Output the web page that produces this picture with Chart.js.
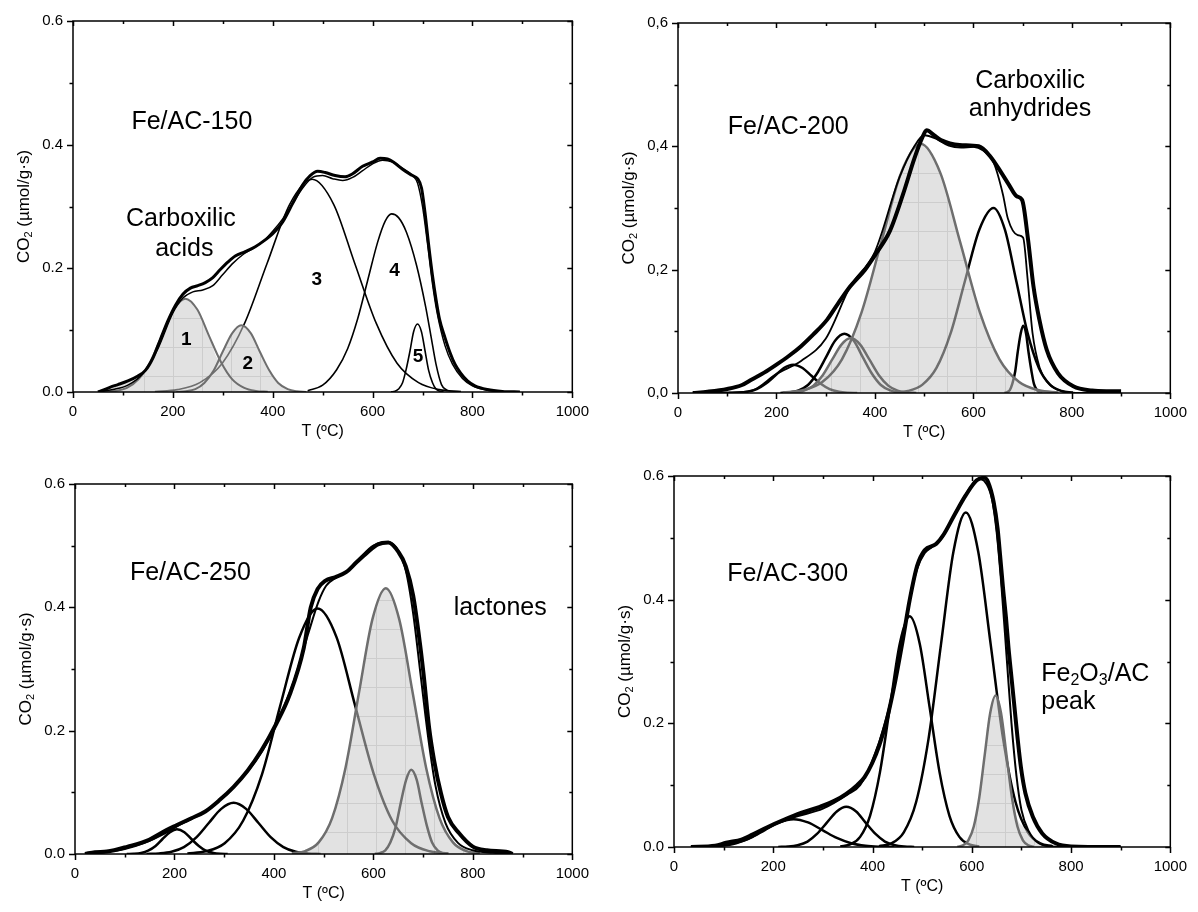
<!DOCTYPE html>
<html>
<head>
<meta charset="utf-8">
<script src="https://cdn.jsdelivr.net/npm/chart.js@4.4.1/dist/chart.umd.min.js"></script>
<style>
  html, body { margin: 0; padding: 0; background: #fff; }
  #wrap { position: relative; width: 1198px; height: 912px; overflow: hidden; }
  canvas { position: absolute; }
</style>
</head>
<body>
<div id="wrap">
  <canvas id="c150" width="600" height="456" style="left:0px;top:0px"></canvas>
  <canvas id="c200" width="598" height="456" style="left:600px;top:0px"></canvas>
  <canvas id="c250" width="600" height="456" style="left:0px;top:456px"></canvas>
  <canvas id="c300" width="598" height="456" style="left:600px;top:456px"></canvas>
</div>
<script>
// values: [T (ºC), CO2 (umol/g.s)]

// ---- Fe/AC-150
var exp150 = [[50,0],[60,0.003],[75,0.008],[90,0.012],[110,0.018],[130,0.026],[145,0.035],[160,0.055],[175,0.085],[190,0.115],[205,0.14],[220,0.158],[235,0.168],[250,0.172],[265,0.177],[280,0.185],[295,0.198],[310,0.21],[325,0.22],[345,0.227],[365,0.235],[385,0.246],[400,0.256],[420,0.275],[440,0.305],[460,0.335],[475,0.35],[490,0.357],[505,0.355],[525,0.35],[545,0.348],[560,0.353],[580,0.365],[600,0.372],[615,0.378],[630,0.377],[645,0.37],[660,0.36],[680,0.35],[690,0.345],[698,0.33],[705,0.29],[712,0.24],[720,0.188],[727,0.15],[734,0.118],[745,0.088],[755,0.064],[765,0.045],[776,0.031],[790,0.018],[805,0.01],[830,0.004],[860,0.001],[895,0]]
var fit150 = [[50,0],[80,0.004],[110,0.011],[140,0.03],[170,0.07],[200,0.128],[220,0.152],[240,0.162],[260,0.165],[280,0.172],[300,0.19],[320,0.208],[340,0.222],[360,0.232],[380,0.243],[400,0.26],[420,0.28],[440,0.305],[460,0.33],[480,0.347],[500,0.35],[520,0.345],[540,0.342],[560,0.347],[580,0.358],[600,0.369],[620,0.375],[640,0.372],[660,0.362],[680,0.35],[690,0.338],[700,0.3],[710,0.24],[720,0.175],[730,0.125],[745,0.075],[760,0.045],[780,0.022],[800,0.01],[830,0.003],[870,0],[895,0]]
var pk150a = [[61,0.0003],[84,0.0017],[108,0.0066],[131,0.0204],[155,0.049],[178,0.0916],[202,0.1333],[225,0.151],[249,0.1333],[272,0.0916],[296,0.049],[319,0.0204],[343,0.0066],[366,0.0017],[390,0.0003]]
var pk150b = [[207,0.0002],[226,0.0012],[245,0.0047],[263,0.0146],[282,0.0351],[300,0.0655],[319,0.0953],[337,0.108],[356,0.0953],[374,0.0655],[393,0.0351],[411,0.0146],[430,0.0047],[448,0.0012],[467,0.0002]]
var pk150c = [[164,0.0008],[209,0.0038],[254,0.0151],[299,0.0465],[344,0.1117],[389,0.2086],[434,0.3036],[479,0.344],[522,0.3036],[564,0.2086],[607,0.1117],[649,0.0465],[692,0.0151],[734,0.0038],[777,0.0008]]
var pk150d = [[470,0.002],[500,0.011],[528,0.036],[550,0.07],[570,0.118],[590,0.18],[610,0.242],[625,0.276],[638,0.288],[652,0.282],[668,0.258],[688,0.205],[706,0.139],[717,0.09],[727,0.045],[738,0.012],[750,0.002]]
var pk150e = [[637,0.0002],[645,0.0012],[652,0.0048],[660,0.0149],[667,0.0357],[675,0.0667],[682,0.0971],[690,0.11],[698,0.0971],[705,0.0667],[712,0.0357],[720,0.0149],[727,0.0048],[735,0.0012],[742,0.0002]]
var shade150 = [[55,0],[75,0.007],[100,0.013],[130,0.025],[155,0.049],[178,0.0916],[202,0.1333],[225,0.151],[249,0.1333],[272,0.0916],[292,0.053],[300,0.0655],[319,0.0953],[337,0.108],[356,0.0953],[374,0.0655],[393,0.0351],[411,0.0146],[430,0.0047],[448,0.0012],[467,0]]

// ---- Fe/AC-200
var exp200 = [[30,0],[60,0.002],[100,0.0065],[130,0.013],[150,0.022],[175,0.033],[200,0.046],[225,0.06],[250,0.076],[275,0.095],[303,0.119],[325,0.145],[350,0.173],[380,0.2],[403,0.227],[430,0.262],[457,0.322],[480,0.38],[495,0.412],[505,0.426],[520,0.418],[534,0.41],[572,0.402],[611,0.4],[634,0.384],[657,0.357],[672,0.338],[688,0.319],[699,0.313],[711,0.249],[722,0.173],[734,0.119],[749,0.07],[772,0.032],[803,0.011],[841,0.004],[870,0.003],[900,0.003]]
var fit200 = [[30,0],[100,0.001],[150,0.004],[200,0.031],[250,0.052],[300,0.088],[350,0.173],[400,0.229],[450,0.35],[480,0.4],[500,0.418],[525,0.412],[550,0.401],[575,0.398],[600,0.399],[620,0.393],[641,0.374],[660,0.322],[670,0.283],[690,0.256],[701,0.252],[710,0.186],[720,0.098],[735,0.04],[750,0.018],[780,0.003],[820,0],[900,0]]
var pk200a = [[104,0.0001],[123,0.0005],[141,0.002],[160,0.0062],[178,0.0149],[197,0.0279],[215,0.0406],[234,0.046],[253,0.0406],[271,0.0279],[290,0.0149],[308,0.0062],[327,0.002],[345,0.0005],[364,0.0001]]
var pk200b = [[208,0.0002],[227,0.0011],[245,0.0042],[264,0.013],[282,0.0312],[301,0.0586],[319,0.0847],[338,0.096],[357,0.0847],[375,0.0586],[394,0.0312],[412,0.013],[431,0.0042],[449,0.0011],[468,0.0002]]
var pk200b2 = [[218,0.0002],[237,0.001],[256,0.0039],[275,0.012],[294,0.0289],[313,0.054],[332,0.0785],[351,0.089],[370,0.0785],[389,0.054],[408,0.0289],[427,0.012],[446,0.0039],[465,0.001],[484,0.0002]]
var pk200c = [[213,0.0009],[253,0.0045],[293,0.0177],[333,0.0547],[373,0.1312],[413,0.245],[453,0.3565],[493,0.404],[533,0.3565],[573,0.245],[613,0.1312],[653,0.0547],[693,0.0177],[733,0.0045],[773,0.0009]]
var pk200d = [[438,0.0007],[467,0.0033],[496,0.0132],[525,0.0406],[554,0.0974],[583,0.182],[612,0.2648],[641,0.3],[664,0.2648],[687,0.182],[710,0.0974],[733,0.0406],[756,0.0132],[779,0.0033],[802,0.0007]]
var pk200e = [[663,0.0002],[668,0.0012],[674,0.0048],[679,0.0147],[685,0.0354],[690,0.0661],[696,0.0962],[701,0.109],[707,0.0962],[712,0.0661],[718,0.0354],[723,0.0147],[729,0.0048],[734,0.0012],[740,0.0002]]
var shade200 = [[237,0.001],[256,0.0039],[275,0.012],[294,0.0289],[313,0.054],[332,0.0785],[351,0.089],[373,0.1312],[413,0.245],[453,0.3565],[493,0.404],[533,0.3565],[573,0.245],[613,0.1312],[653,0.0547],[693,0.0177],[733,0.0045],[773,0.0009]]

// ---- Fe/AC-250
var exp250 = [[20,0],[40,0.003],[64,0.004],[106,0.012],[149,0.023],[184,0.039],[205,0.047],[234,0.058],[262,0.069],[290,0.087],[319,0.109],[347,0.135],[375,0.168],[404,0.21],[432,0.259],[460,0.334],[474,0.4],[488,0.43],[503,0.443],[524,0.449],[545,0.457],[566,0.473],[588,0.489],[609,0.502],[630,0.505],[651,0.489],[665,0.467],[680,0.419],[694,0.339],[701,0.291],[712,0.205],[722,0.152],[736,0.098],[750,0.06],[772,0.034],[800,0.012],[828,0.006],[871,0.003],[880,0]]
var fit250 = [[20,0],[60,0.003],[100,0.008],[140,0.018],[180,0.033],[205,0.045],[230,0.055],[260,0.068],[290,0.087],[320,0.11],[350,0.137],[380,0.172],[410,0.22],[440,0.28],[470,0.36],[490,0.41],[505,0.435],[525,0.448],[550,0.46],[575,0.482],[600,0.5],[625,0.506],[645,0.498],[665,0.46],[680,0.39],[695,0.29],[710,0.19],[725,0.11],[745,0.05],[770,0.018],[800,0.006],[840,0.002],[880,0]]
var pk250a = [[104,0.0001],[118,0.0004],[133,0.0018],[147,0.0054],[162,0.013],[176,0.0243],[191,0.0353],[205,0.04],[220,0.0353],[234,0.0243],[249,0.013],[263,0.0054],[278,0.0018],[292,0.0004],[307,0.0001]]
var pk250b = [[144,0.0002],[169,0.0009],[194,0.0036],[219,0.0112],[244,0.027],[269,0.0503],[294,0.0732],[319,0.083],[344,0.0732],[369,0.0503],[394,0.027],[419,0.0112],[444,0.0036],[469,0.0009],[494,0.0002]]
var pk250c = [[226,0.0009],[263,0.0044],[301,0.0175],[338,0.0539],[376,0.1292],[413,0.2414],[451,0.3512],[488,0.398],[526,0.3512],[563,0.2414],[601,0.1292],[638,0.0539],[676,0.0175],[713,0.0044],[751,0.0009]]
var pk250d = [[436,0.001],[463,0.0048],[490,0.0189],[517,0.0583],[544,0.14],[571,0.2614],[598,0.3804],[625,0.431],[652,0.3804],[679,0.2614],[706,0.14],[733,0.0583],[760,0.0189],[787,0.0048],[814,0.001]]
var pk250e = [[603,0.0003],[613,0.0015],[624,0.006],[634,0.0185],[645,0.0443],[655,0.0828],[666,0.1205],[676,0.1365],[687,0.1205],[697,0.0828],[708,0.0443],[718,0.0185],[729,0.006],[739,0.0015],[750,0.0003]]
var shade250 = [[436,0.001],[463,0.0048],[490,0.0189],[517,0.0583],[544,0.14],[571,0.2614],[598,0.3804],[625,0.431],[652,0.3804],[679,0.2614],[706,0.14],[733,0.0583],[760,0.0189],[787,0.0048],[814,0.001]]

// ---- Fe/AC-300
var exp300 = [[34,0],[83,0.002],[105,0.007],[136,0.012],[158,0.02],[188,0.032],[219,0.043],[256,0.055],[294,0.065],[324,0.075],[347,0.086],[369,0.1],[384,0.113],[399,0.135],[414,0.165],[430,0.21],[445,0.265],[460,0.33],[475,0.4],[490,0.455],[505,0.48],[528,0.49],[543,0.505],[565,0.537],[588,0.569],[610,0.593],[625,0.597],[633,0.59],[644,0.558],[652,0.515],[657,0.472],[663,0.418],[669,0.37],[674,0.322],[680,0.274],[686,0.226],[692,0.178],[699,0.129],[708,0.087],[723,0.049],[742,0.022],[769,0.006],[800,0.001],[900,0]]
var fit300 = [[34,0],[80,0.001],[100,0.003],[150,0.013],[200,0.036],[250,0.05],[300,0.062],[350,0.085],[375,0.1],[400,0.14],[425,0.2],[450,0.285],[475,0.4],[490,0.45],[505,0.475],[520,0.485],[540,0.5],[560,0.53],[580,0.56],[600,0.585],[615,0.595],[625,0.592],[640,0.565],[650,0.51],[660,0.42],[670,0.31],[680,0.2],[690,0.115],[700,0.06],[715,0.025],[735,0.006],[760,0.001],[900,0]]
var pk300a = [[38,0.0001],[67,0.0005],[96,0.002],[125,0.0061],[154,0.0146],[183,0.0273],[212,0.0397],[241,0.045],[270,0.0397],[299,0.0273],[328,0.0146],[357,0.0061],[386,0.002],[415,0.0005],[444,0.0001]]
var pk300b = [[210,0.0001],[230,0.0007],[249,0.0029],[269,0.0088],[288,0.0211],[308,0.0394],[328,0.0574],[347,0.065],[367,0.0574],[386,0.0394],[406,0.0211],[425,0.0088],[445,0.0029],[464,0.0007],[484,0.0001]]
var pk300c = [[335,0.0008],[355,0.0041],[375,0.0164],[395,0.0505],[415,0.1211],[435,0.2262],[455,0.3292],[475,0.373],[495,0.3292],[515,0.2262],[535,0.1211],[555,0.0505],[575,0.0164],[595,0.0041],[615,0.0008]]
var pk300d = [[413,0.0012],[438,0.006],[463,0.0238],[488,0.0732],[513,0.1757],[538,0.3281],[563,0.4774],[588,0.541],[613,0.4774],[638,0.3281],[663,0.1757],[688,0.0732],[713,0.0238],[738,0.006],[763,0.0012]]
var pk300e = [[571,0.0005],[582,0.0027],[593,0.0108],[604,0.0331],[615,0.0796],[626,0.1486],[637,0.2162],[648,0.245],[659,0.2162],[670,0.1486],[681,0.0796],[692,0.0331],[703,0.0108],[714,0.0027],[725,0.0005]]
var shade300 = [[566,0],[571,0.0005],[582,0.0027],[593,0.0108],[604,0.0331],[615,0.0796],[626,0.1486],[637,0.2162],[648,0.245],[659,0.2162],[670,0.1486],[681,0.0796],[692,0.045],[703,0.033],[714,0.024],[725,0.015],[738,0.006],[750,0]]

// text placed at data coordinates: [runs, T, value, size, align, bold]
var notes = {
  c150: [
    [[['Fe/AC-150', 0]], 238, 0.436, 25, 'center', false],
    [[['Carboxilic', 0]], 216, 0.279, 25, 'center', false],
    [[['acids', 0]], 223, 0.231, 25, 'center', false],
    [[['1', 0]], 227, 0.084, 19, 'center', true],
    [[['2', 0]], 350, 0.045, 19, 'center', true],
    [[['3', 0]], 488, 0.182, 19, 'center', true],
    [[['4', 0]], 644, 0.196, 19, 'center', true],
    [[['5', 0]], 691, 0.057, 19, 'center', true]
  ],
  c200: [
    [[['Fe/AC-200', 0]], 224, 0.431, 25, 'center', false],
    [[['Carboxilic', 0]], 715, 0.505, 25, 'center', false],
    [[['anhydrides', 0]], 715, 0.461, 25, 'center', false]
  ],
  c250: [
    [[['Fe/AC-250', 0]], 232, 0.455, 25, 'center', false],
    [[['lactones', 0]], 855, 0.398, 25, 'center', false]
  ],
  c300: [
    [[['Fe/AC-300', 0]], 229, 0.441, 25, 'center', false],
    [[['Fe', 0], ['2', 1], ['O', 0], ['3', 1], ['/AC', 0]], 740, 0.28, 25, 'left', false],
    [[['peak', 0]], 740, 0.234, 25, 'left', false]
  ]
}

var FONT = '"Liberation Sans", Arial, Helvetica, sans-serif'
var GREY = '#6e6e6e'

function drawRuns (c, runs, x, y, size, align, bold) {
  var w = 0
  var i
  for (i = 0; i < runs.length; i++) {
    c.font = (bold ? 'bold ' : '') + (runs[i][1] ? Math.round(size * 0.62) : size) + 'px ' + FONT
    w += c.measureText(runs[i][0]).width
  }
  var cx = align === 'center' ? x - w / 2 : x
  c.textAlign = 'left'
  c.textBaseline = 'middle'
  for (i = 0; i < runs.length; i++) {
    var sub = runs[i][1]
    c.font = (bold ? 'bold ' : '') + (sub ? Math.round(size * 0.62) : size) + 'px ' + FONT
    c.fillText(runs[i][0], cx, y + (sub ? size * 0.28 : 0))
    cx += c.measureText(runs[i][0]).width
  }
}

var framePlugin = {
  id: 'frame',
  afterDraw: function (chart) {
    var c = chart.ctx
    var a = chart.chartArea
    var sx = chart.scales.x
    var sy = chart.scales.y
    c.save()
    c.strokeStyle = '#000'
    c.lineWidth = 1.5
    c.strokeRect(a.left, a.top, a.right - a.left, a.bottom - a.top)
    c.beginPath()
    for (var t = 0; t <= 1000; t += 100) {
      var x = Math.round(sx.getPixelForValue(t)) + 0.5
      var major = t % 200 === 0
      c.moveTo(x, a.bottom); c.lineTo(x, a.bottom + (major ? 6 : 3.5))
      c.moveTo(x, a.top); c.lineTo(x, a.top + (major ? 5 : 3))
    }
    for (var v = 0; v <= 6; v++) {
      var y = Math.round(sy.getPixelForValue(v / 10)) + 0.5
      var maj = v % 2 === 0
      c.moveTo(a.left, y); c.lineTo(a.left - (maj ? 6 : 3.5), y)
      c.moveTo(a.right, y); c.lineTo(a.right - (maj ? 5 : 3), y)
    }
    c.stroke()

    c.fillStyle = '#000'
    // axis titles
    drawRuns(c, [['T (ºC)', 0]], (a.left + a.right) / 2, a.bottom + 40, 16, 'center', false)
    c.save()
    c.translate(a.left - 49, (a.top + a.bottom) / 2)
    c.rotate(-Math.PI / 2)
    drawRuns(c, [['CO', 0], ['2', 1], [' (µmol/g·s)', 0]], 0, 0, 17, 'center', false)
    c.restore()

    var list = notes[chart.canvas.id] || []
    list.forEach(function (n) {
      drawRuns(c, n[0], sx.getPixelForValue(n[1]), sy.getPixelForValue(n[2]), n[3], n[4], n[5])
    })
    c.restore()
  }
}

function curve (data, color, width, order) {
  return {
    data: data,
    borderColor: color,
    borderWidth: width,
    pointRadius: 0,
    pointHoverRadius: 0,
    fill: false,
    cubicInterpolationMode: 'monotone',
    order: order
  }
}

function shade (data, pattern) {
  return {
    data: data,
    borderColor: 'rgba(0,0,0,0)',
    borderWidth: 0,
    pointRadius: 0,
    pointHoverRadius: 0,
    fill: 'origin',
    backgroundColor: pattern,
    cubicInterpolationMode: 'monotone',
    order: 3
  }
}

function shadePattern (ctx) {
  var t = document.createElement('canvas')
  t.width = 29
  t.height = 29
  var g = t.getContext('2d')
  g.fillStyle = 'rgba(203,203,203,0.55)'
  g.fillRect(0, 0, 28, 28)
  g.fillStyle = 'rgba(172,172,172,0.6)'
  g.fillRect(28, 0, 1, 29)
  g.fillRect(0, 28, 28, 1)
  return ctx.createPattern(t, 'repeat')
}

function makeChart (id, box, sets, comma) {
  var canvas = document.getElementById(id)
  var ctx = canvas.getContext('2d')
  return new Chart(ctx, {
    type: 'line',
    data: { datasets: sets(ctx) },
    options: {
      responsive: false,
      animation: false,
      devicePixelRatio: 1,
      events: [],
      layout: { padding: { top: box[1], right: canvas.width - box[2], left: 0, bottom: 0 } },
      plugins: { legend: { display: false }, tooltip: { enabled: false } },
      scales: {
        x: {
          type: 'linear',
          min: 0,
          max: 1000,
          afterFit: function (s) { s.height = canvas.height - box[3] },
          grid: { display: false, drawTicks: false },
          border: { display: false },
          ticks: {
            stepSize: 200,
            padding: 11,
            color: '#000',
            maxRotation: 0,
            autoSkip: false,
            font: { family: FONT, size: 15 },
            callback: function (v) { return String(Math.round(v)) }
          }
        },
        y: {
          type: 'linear',
          min: 0,
          max: 0.6,
          afterFit: function (s) { s.width = box[0] },
          grid: { display: false, drawTicks: false },
          border: { display: false },
          ticks: {
            stepSize: 0.2,
            padding: 10,
            color: '#000',
            font: { family: FONT, size: 15 },
            callback: function (v) {
              var s = Number(v).toFixed(1)
              return comma ? s.replace('.', ',') : s
            }
          }
        }
      }
    },
    plugins: [framePlugin]
  })
}

// [left, top, right, bottom] of the plot area inside each canvas
makeChart('c150', [73, 21, 577, 392], function (ctx) {
  return [
    curve(exp150, '#000', 3, 0),
    curve(fit150, '#000', 1.5, 1),
    curve(pk150a, GREY, 2, 2),
    curve(pk150b, GREY, 2, 2),
    shade(shade150, shadePattern(ctx)),
    curve(pk150c, '#000', 1.6, 4),
    curve(pk150d, '#000', 1.6, 4),
    curve(pk150e, '#000', 1.6, 4)
  ]
}, false)

makeChart('c200', [78, 23, 577, 393], function (ctx) {
  return [
    curve(exp200, '#000', 4, 0),
    curve(fit200, '#000', 1.8, 1),
    curve(pk200b2, GREY, 2.5, 2),
    curve(pk200c, GREY, 2.5, 2),
    shade(shade200, shadePattern(ctx)),
    curve(pk200a, '#000', 2.5, 4),
    curve(pk200b, '#000', 2.5, 4),
    curve(pk200d, '#000', 2.5, 4),
    curve(pk200e, '#000', 2.5, 4)
  ]
}, true)

makeChart('c250', [75, 28, 580, 398], function (ctx) {
  return [
    curve(exp250, '#000', 4, 0),
    curve(fit250, '#000', 2, 1),
    curve(pk250d, GREY, 2.5, 2),
    curve(pk250e, GREY, 2.5, 2),
    shade(shade250, shadePattern(ctx)),
    curve(pk250a, '#000', 2.5, 4),
    curve(pk250b, '#000', 2.5, 4),
    curve(pk250c, '#000', 2.5, 4)
  ]
}, false)

makeChart('c300', [74, 20, 579, 391], function (ctx) {
  return [
    curve(exp300, '#000', 4, 0),
    curve(fit300, '#000', 2, 1),
    curve(pk300e, GREY, 2.5, 2),
    shade(shade300, shadePattern(ctx)),
    curve(pk300a, '#000', 2.5, 4),
    curve(pk300b, '#000', 2.5, 4),
    curve(pk300c, '#000', 2.5, 4),
    curve(pk300d, '#000', 2.5, 4)
  ]
}, false)
</script>
</body>
</html>
